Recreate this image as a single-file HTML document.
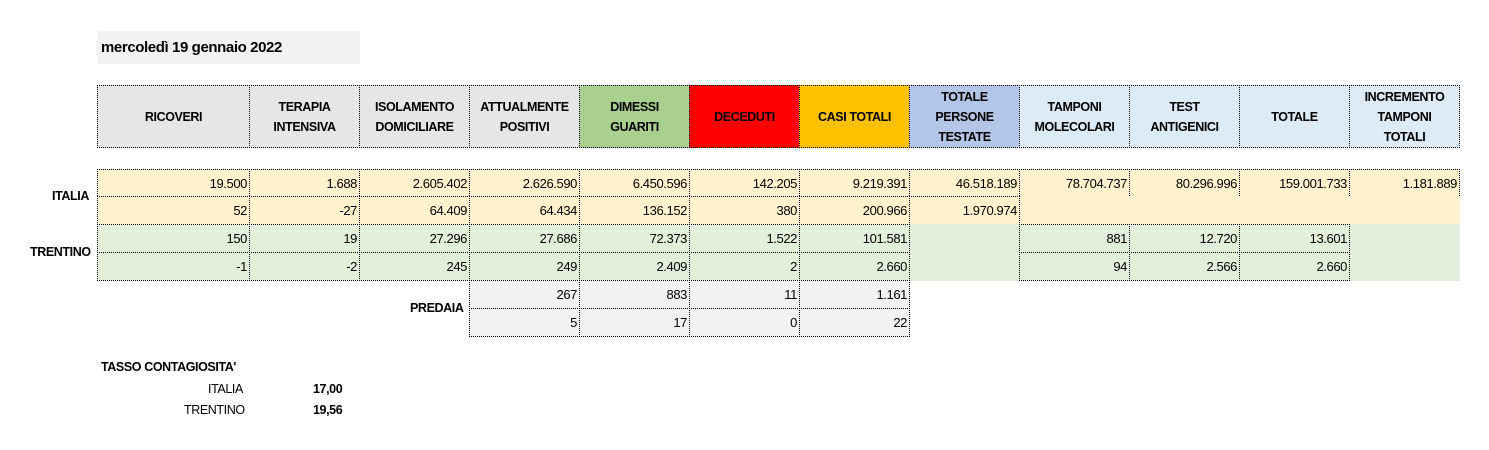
<!DOCTYPE html>
<html><head><meta charset="utf-8"><style>
body{margin:0;width:1489px;height:450px;background:#fff;position:relative;overflow:hidden;font-family:"Liberation Sans",Arial,sans-serif;}
.c{position:absolute;box-sizing:border-box;font-size:13px;color:#000;letter-spacing:-0.4px;}
.b{border:1px dotted #000;}
.n{text-align:right;padding-right:2px;display:flex;align-items:center;justify-content:flex-end;}
.h{font-weight:bold;font-size:12.5px;text-align:center;display:flex;align-items:center;justify-content:center;line-height:20px;}
.l{position:absolute;font-size:12.5px;letter-spacing:-0.4px;}
</style></head><body>
<div class="c" style="left:97px;top:31px;width:263px;height:33px;background:#f2f2f2;font-weight:bold;font-size:15px;padding:8px 0 0 4px;">mercoledì 19 gennaio 2022</div>
<div id="t"></div>
<div class="l" style="left:52px;top:189px;font-weight:bold;">ITALIA</div>
<div class="l" style="left:30px;top:245px;font-weight:bold;">TRENTINO</div>
<div class="l" style="left:410px;top:301px;font-weight:bold;">PREDAIA</div>
<div class="l" style="left:101px;top:360px;font-weight:bold;">TASSO CONTAGIOSITA'</div>
<div class="l" style="left:208px;top:382px;">ITALIA</div>
<div class="l" style="left:313px;top:382px;font-weight:bold;">17,00</div>
<div class="l" style="left:184px;top:403px;">TRENTINO</div>
<div class="l" style="left:313px;top:403px;font-weight:bold;">19,56</div>
<script>
const xs=[97,249,359,469,579,689,799,909,1019,1129,1239,1349,1459];
const headers=["RICOVERI","TERAPIA<br>INTENSIVA","ISOLAMENTO<br>DOMICILIARE","ATTUALMENTE<br>POSITIVI","DIMESSI<br>GUARITI","DECEDUTI","CASI TOTALI","TOTALE<br>PERSONE<br>TESTATE","TAMPONI<br>MOLECOLARI","TEST<br>ANTIGENICI","TOTALE","INCREMENTO<br>TAMPONI<br>TOTALI"];
const hcol=["#e7e6e6","#e7e6e6","#e7e6e6","#e7e6e6","#a9d08e","#ff0000","#ffc000","#b4c6e7","#ddebf7","#ddebf7","#ddebf7","#ddebf7"];
const italia1=["19.500","1.688","2.605.402","2.626.590","6.450.596","142.205","9.219.391","46.518.189","78.704.737","80.296.996","159.001.733","1.181.889"];
const italia2=["52","-27","64.409","64.434","136.152","380","200.966","1.970.974",null,null,null,null];
const trentino1=["150","19","27.296","27.686","72.373","1.522","101.581",null,"881","12.720","13.601",null];
const trentino2=["-1","-2","245","249","2.409","2","2.660",null,"94","2.566","2.660",null];
const predaia1=[null,null,null,"267","883","11","1.161",null,null,null,null,null];
const predaia2=[null,null,null,"5","17","0","22",null,null,null,null,null];
const T=document.getElementById('t');
function mk(x,y,w,h,bg,txt,cls,bord){const d=document.createElement('div');d.className='c '+cls+(bord?' b':'');d.style.left=x+'px';d.style.top=y+'px';d.style.width=(w+1)+'px';d.style.height=(h+1)+'px';d.style.background=bg;d.innerHTML=txt||'';T.appendChild(d);return d;}
headers.forEach((h,i)=>{const d=mk(xs[i],85,xs[i+1]-xs[i],62,hcol[i],h,'h',true);

});
function row(arr,y,bg,skipBorder){arr.forEach((v,i)=>{if(v===null&&skipBorder)return;const d=mk(xs[i],y,xs[i+1]-xs[i],28,bg,v,'n',true);

});}
// italia
row(italia1,169,'#fff2cc',false);
const f1=mk(xs[8],197,xs[12]-xs[8],27,'#fff2cc','','',false);


row(italia2,196,'#fff2cc',true);
// trentino
const g1=mk(xs[7],224,xs[8]-xs[7],56,'#e2efda','','',false);


const g2=mk(xs[11],224,xs[12]-xs[11],56,'#e2efda','','',false);


row(trentino1,224,'#e2efda',true);
row(trentino2,252,'#e2efda',true);
// predaia
row(predaia1,280,'#f2f2f2',true);
row(predaia2,308,'#f2f2f2',true);
</script>
</body></html>
